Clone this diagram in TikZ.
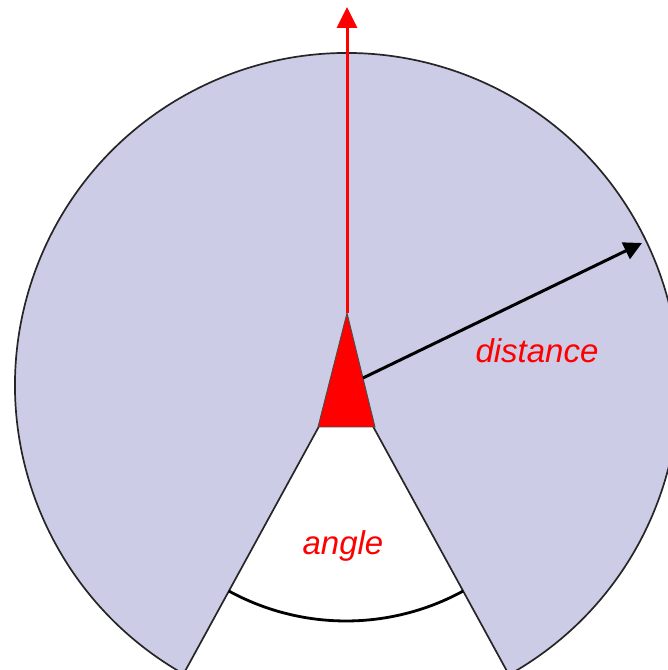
\documentclass[tikz,border=0pt]{standalone}
\usepackage{fontspec}
\setmainfont{Liberation Sans}
\usetikzlibrary{arrows.meta,calc}
\definecolor{lav}{RGB}{204,204,230}
\definecolor{pred}{RGB}{255,0,0}
\tikzset{
  disc/.style={fill=lav, draw=black!85, line width=1.7pt},
  apexmark/.style={fill=pred, draw=black!70, line width=0.9pt, line join=miter},
  upray/.style={draw=pred, line width=3pt, -{Triangle[length=21pt,width=20pt]}},
  distray/.style={draw=black, line width=3pt, -{Triangle[length=18pt,width=18pt]}},
  anglearc/.style={draw=black, line width=2.8pt},
  lbl/.style={text=pred, font=\fontsize{33}{40}\selectfont\itshape, anchor=base, inner sep=0pt}
}
\begin{document}
\begin{tikzpicture}[x=1pt,y=1pt]
\useasboundingbox (0,0) rectangle (668,670);
\clip (0,0) rectangle (668,670);
% key points (pixel y flipped: y = 670 - py)
\coordinate (ctr) at (347,285);
\coordinate (apex) at (346,293);
\coordinate (rcut) at ($(ctr)+(-60.8:332)$);
% disc with wedge removed
\draw[disc] (apex) -- (rcut) arc[start angle=-60.8, end angle=240.5, radius=332] -- cycle;
% angle arc
\draw[anglearc] ($(apex)+(-118.7:244)$) arc[start angle=-118.7, end angle=-61.3, radius=244];
% red triangle
\coordinate (ttop) at (347,357);
\coordinate (tl) at (318,243);
\coordinate (tr) at (375,243);
\draw[apexmark] (ttop) -- (tl) -- (tr) -- cycle;
% upward red arrow
\coordinate (uptip) at (347,663);
\draw[upray] (ttop) -- (uptip);
% distance arrow
\coordinate (dstart) at (363,292);
\coordinate (dtip) at (642,427);
\draw[distray] (dstart) -- (dtip);
% labels
\node[lbl] (dlabel) at (537,307) {distance};
\node[lbl] (alabel) at (343,115) {angle};
\end{tikzpicture}
\end{document}
